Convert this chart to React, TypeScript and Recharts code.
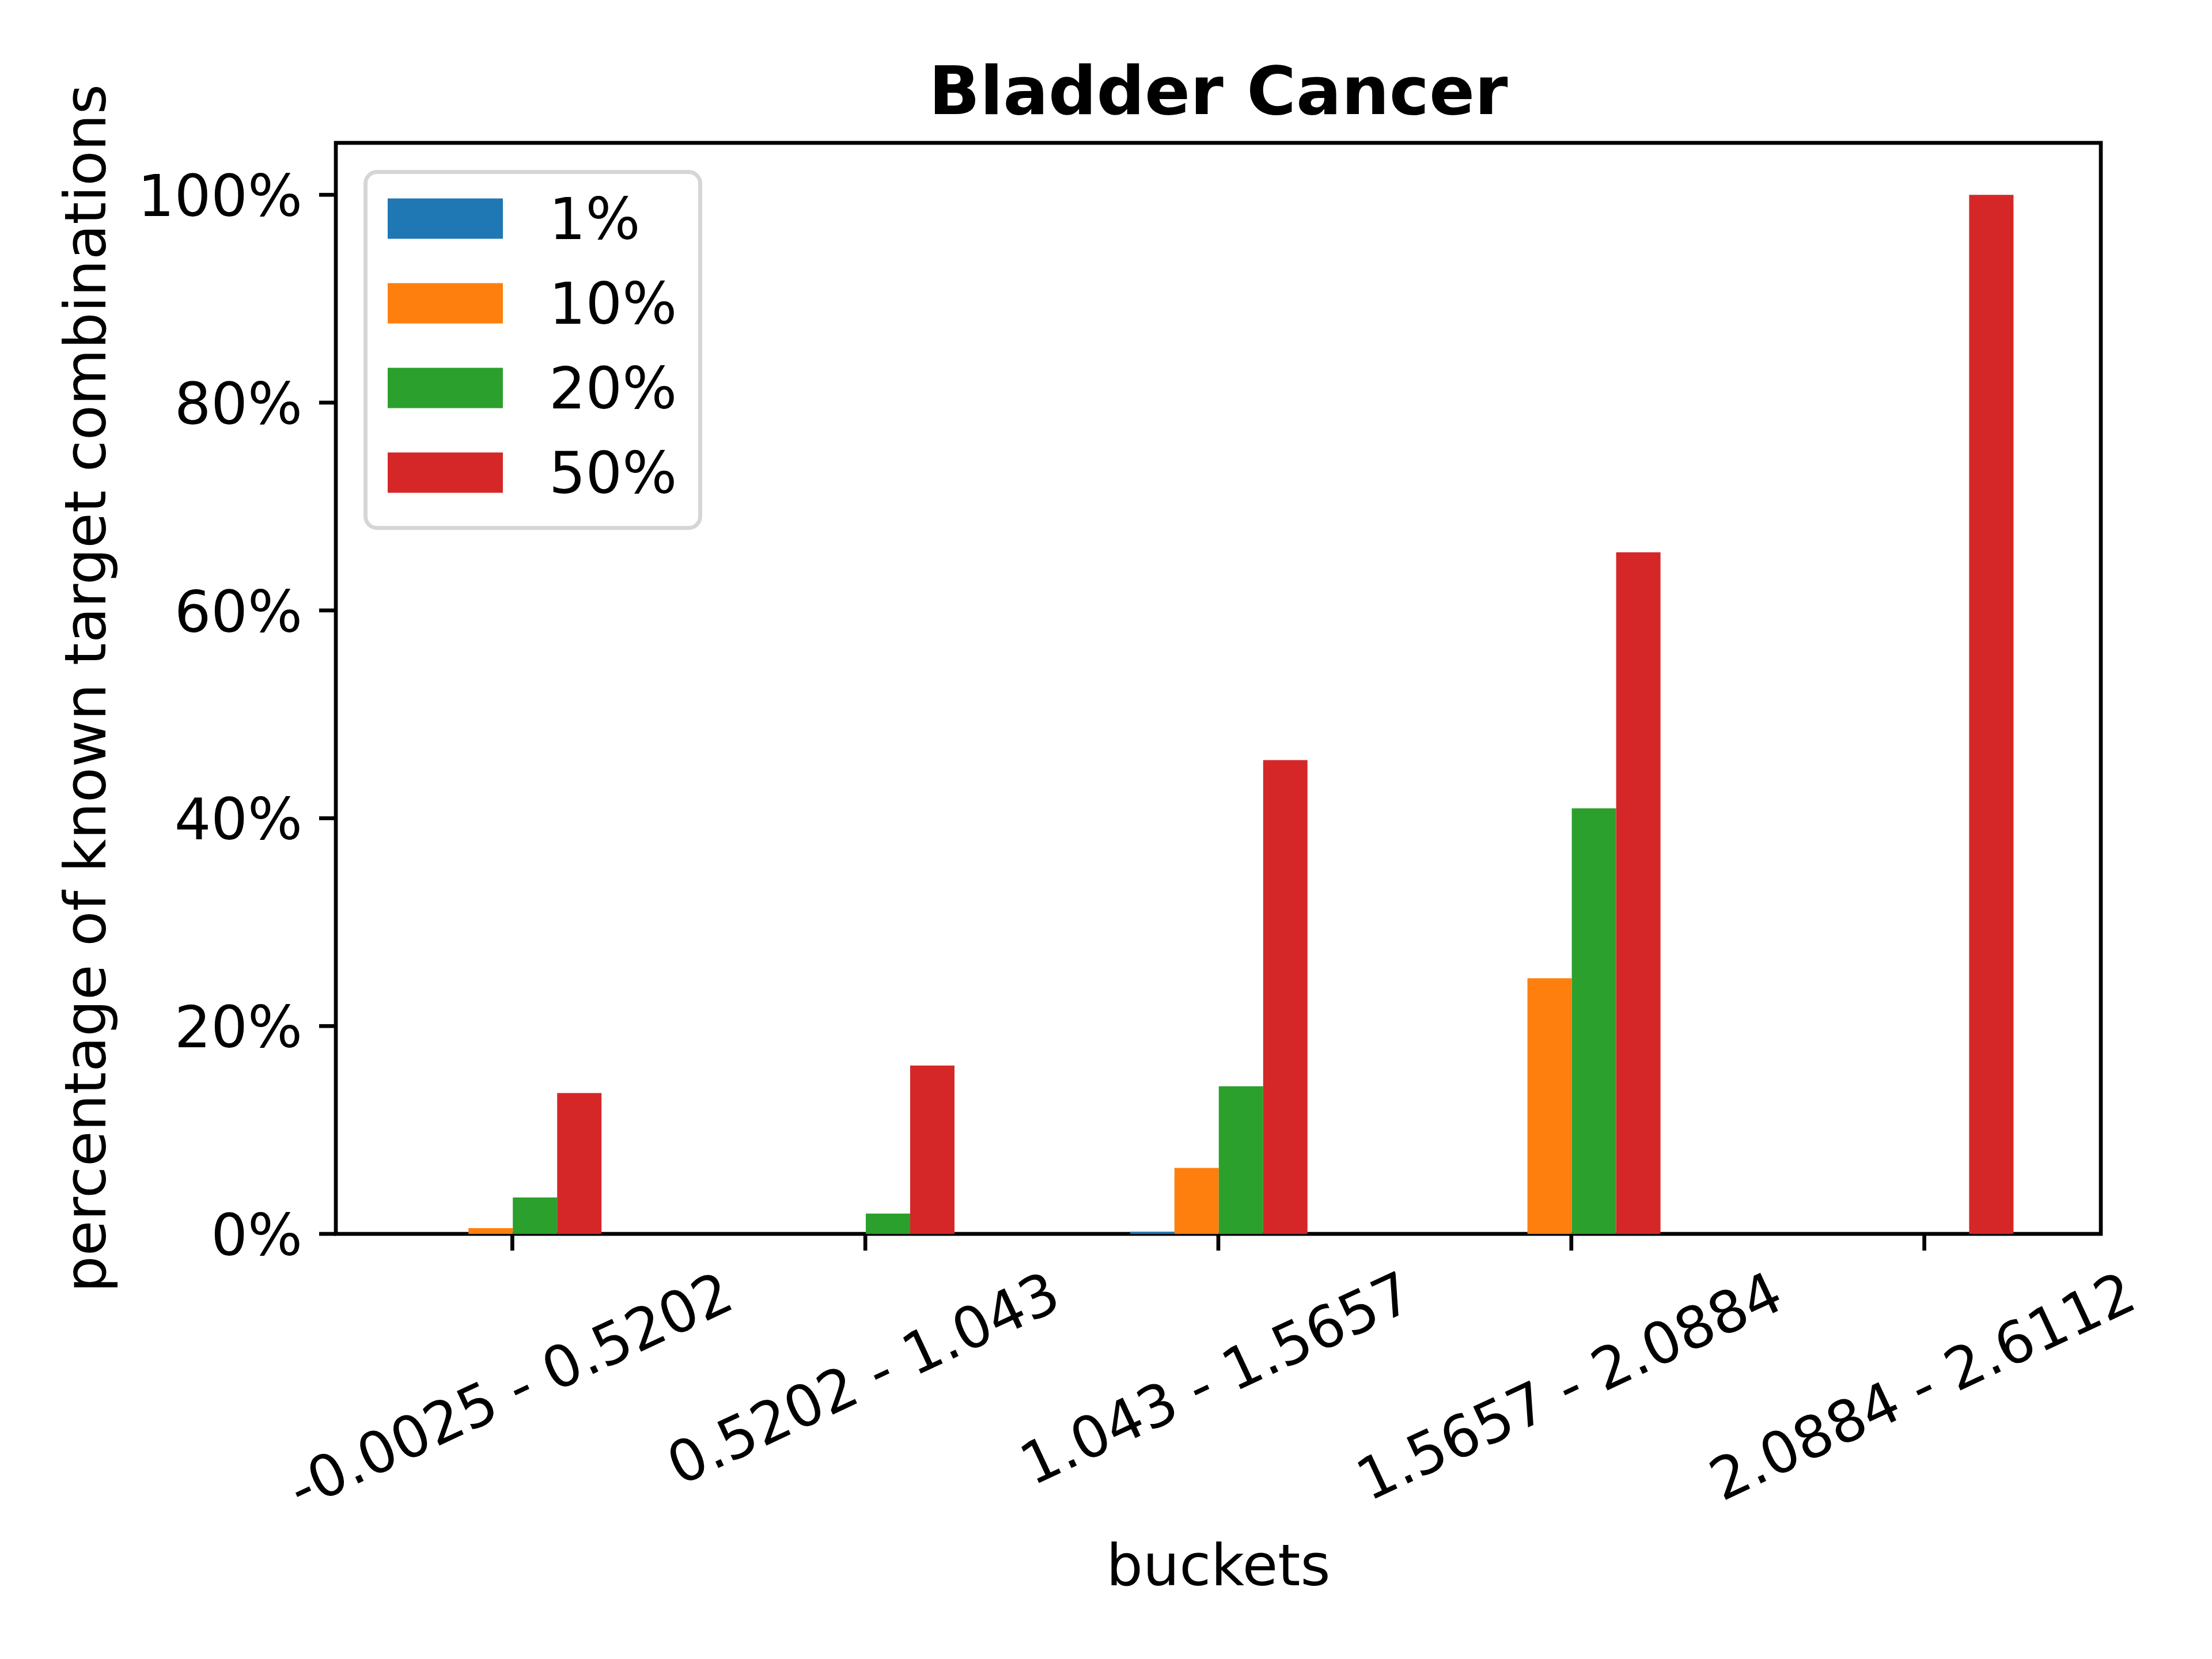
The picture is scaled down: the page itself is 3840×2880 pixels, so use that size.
import * as Recharts from "recharts";
import { Bar, BarChart, Legend, XAxis, YAxis } from "recharts";

const BUCKETS = ["-0.0025 - 0.5202", "0.5202 - 1.043", "1.043 - 1.5657", "1.5657 - 2.0884", "2.0884 - 2.6112"];
const SERIES = ["1%", "10%", "20%", "50%"];
const P1 = [0, 0, 0.2, 0, 0];
const P10 = [0.55, 0, 6.35, 24.6, 0];
const P20 = [3.5, 1.95, 14.2, 40.95, 0];
const P50 = [13.55, 16.2, 45.6, 65.6, 100];
const Y_TICKS = [0, 20, 40, 60, 80, 100];
const COLORS = ["#1f77b4", "#ff7f0e", "#2ca02c", "#d62728"];

const data = BUCKETS.map((bucket, i) => ({
  bucket,
  p1: P1[i],
  p10: P10[i],
  p20: P20[i],
  p50: P50[i],
}));
const KEYS = ["p1", "p10", "p20", "p50"];

const FONT = "DejaVu Sans";
const FS = 100;
const SPINE = 6.7;
const ROT = (25 * Math.PI) / 180;
const MARGIN = { top: 248, right: 193, bottom: 0, left: 0 };
const W = 3840;
const H = 2880;
const Y_AXIS_W = 583;
const X_AXIS_H = 738;

// rough DejaVu Sans advance widths (em)
const charWidth = (c: string) => (c === "." || c === " " ? 0.318 : c === "-" ? 0.361 : 0.636);
const textWidth = (s: string) => s.split("").reduce((a, c) => a + charWidth(c), 0) * FS;

const XTick = ({ x, y, payload }: any) => {
  const w = textWidth(payload.value);
  const boxH = w * Math.sin(ROT) + 99.6 * Math.cos(ROT);
  const cy = y + boxH / 2;
  return (
    <g transform={`translate(${x},${cy}) rotate(-25)`}>
      <text x={0} y={26.2} textAnchor="middle" fontFamily={FONT} fontSize={FS} fill="#000">
        {payload.value}
      </text>
    </g>
  );
};

const YTick = ({ x, y, payload }: any) => (
  <text x={x} y={y + 37} textAnchor="end" fontFamily={FONT} fontSize={FS} fill="#000">
    {`${payload.value}%`}
  </text>
);

const LegendBox = ({ payload }: any) => (
  <svg width={588} height={625} style={{ display: "block" }}>
    <rect x={3.5} y={3.5} width={581} height={618} rx={20} fill="#fff" fillOpacity={0.8} stroke="#cccccc" strokeOpacity={0.8} strokeWidth={7} />
    {(payload || []).map((entry: any, i: number) => (
      <g key={entry.value}>
        <rect x={42} y={84.5 + 147 * i - 35} width={200} height={70} fill={entry.color} />
        <text x={322} y={84.5 + 147 * i + 35} fontFamily={FONT} fontSize={FS} fill="#000">
          {entry.value}
        </text>
      </g>
    ))}
  </svg>
);

// matplotlib-style box around the plot area
const usePlot = (Recharts as any).usePlotArea || (() => null);
const Frame = () => {
  const area = usePlot();
  const box = area || {
    x: MARGIN.left + Y_AXIS_W,
    y: MARGIN.top,
    width: W - MARGIN.left - MARGIN.right - Y_AXIS_W,
    height: H - MARGIN.top - MARGIN.bottom - X_AXIS_H,
  };
  return <rect x={box.x} y={box.y} width={box.width} height={box.height} fill="none" stroke="#000" strokeWidth={SPINE} />;
};

const ticks = { stroke: "#000", strokeWidth: SPINE };

export default function App() {
  return (
    <div style={{ position: "absolute", left: 0, top: 0, width: W, height: H, background: "#fff" }}>
      <BarChart width={W} height={H} data={data} margin={MARGIN} barCategoryGap="25%" barGap={0}>
        <XAxis
          dataKey="bucket"
          height={X_AXIS_H}
          interval={0}
          axisLine={false}
          tickLine={ticks}
          tickSize={29}
          tickMargin={29}
          tick={<XTick />}
        />
        <YAxis
          width={Y_AXIS_W}
          domain={[0, 105]}
          ticks={Y_TICKS}
          type="number"
          axisLine={false}
          tickLine={ticks}
          tickSize={29}
          tickMargin={29}
          tick={<YTick />}
        />
        {KEYS.map((k, i) => (
          <Bar key={k} dataKey={k} name={SERIES[i]} fill={COLORS[i]} isAnimationActive={false} />
        ))}
        <Frame />
        <Legend
          layout="vertical"
          align="center"
          verticalAlign="middle"
          content={<LegendBox />}
          wrapperStyle={{ left: 630.5, top: 294.5, width: 588, height: 625 }}
        />
        <text x={2115} y={198} textAnchor="middle" fontFamily={FONT} fontWeight="bold" fontSize={116.7} fill="#000">
          Bladder Cancer
        </text>
        <text x={2115} y={2752} textAnchor="middle" fontFamily={FONT} fontSize={FS} fill="#000">
          buckets
        </text>
        <text
          transform="translate(183,1195) rotate(-90)"
          x={0}
          y={0}
          textAnchor="middle"
          fontFamily={FONT}
          fontSize={FS}
          fill="#000"
        >
          percentage of known target combinations
        </text>
      </BarChart>
    </div>
  );
}
